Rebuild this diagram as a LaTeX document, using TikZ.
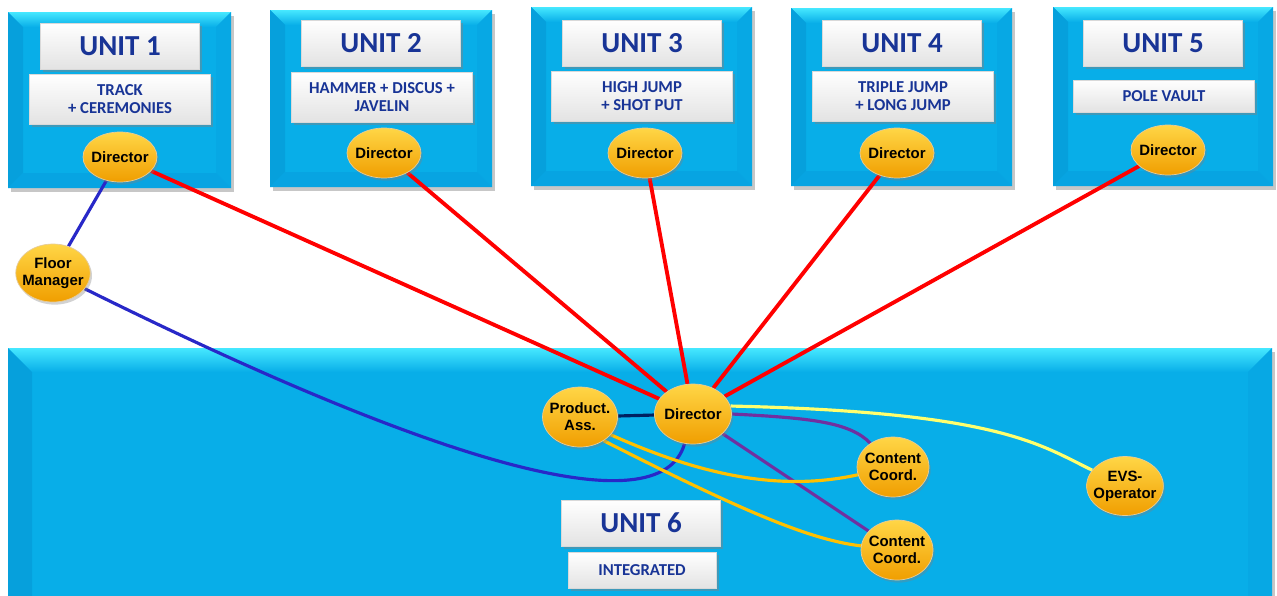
\documentclass[tikz,border=0pt]{standalone}
\usepackage{fontspec}
\newfontfamily\titlefont{Carlito}
\newfontfamily\rolefont{Liberation Sans}
\usetikzlibrary{shapes.geometric,shadows}

\definecolor{unitface}{RGB}{8,174,232}
\definecolor{unittop}{RGB}{70,232,255}
\definecolor{unitleft}{RGB}{6,160,220}
\definecolor{unitright}{RGB}{7,168,228}
\definecolor{unitbottom}{RGB}{7,164,226}
\definecolor{unitnavy}{RGB}{24,52,150}
\definecolor{linered}{RGB}{255,0,0}
\definecolor{floorblue}{RGB}{40,40,200}
\definecolor{assnavy}{RGB}{0,32,96}
\definecolor{evsyellow}{RGB}{255,255,110}
\definecolor{coordpurple}{RGB}{112,48,160}
\definecolor{assorange}{RGB}{255,192,0}
\definecolor{balltop}{RGB}{255,214,70}
\definecolor{ballbottom}{RGB}{240,158,0}

\pgfdeclarelayer{background}
\pgfdeclarelayer{lines}
\pgfsetlayers{background,lines,main}

% bevelled unit panel: x1,y1,x2,y2,bevel
\newcommand{\unitpanel}[5]{%
  \fill[black, opacity=0.22] (#1+3,#2+4) rectangle (#3+3,#4+4);
  \fill[unitface] (#1,#2) rectangle (#3,#4);
  \shade[top color=unittop, bottom color=unitface] (#1,#2) -- (#3,#2) -- (#3-#5,#2+#5) -- (#1+#5,#2+#5) -- cycle;
  \fill[unitleft] (#1,#2) -- (#1+#5,#2+#5) -- (#1+#5,#4-#5) -- (#1,#4) -- cycle;
  \fill[unitright] (#3,#2) -- (#3,#4) -- (#3-#5,#4-#5) -- (#3-#5,#2+#5) -- cycle;
  \fill[unitbottom] (#1,#4) -- (#3,#4) -- (#3-#5,#4-#5) -- (#1+#5,#4-#5) -- cycle;
}

\tikzset{
  unittitle/.style={rectangle, minimum width=3.18cm, minimum height=0.92cm,
    top color=white, bottom color=gray!22, draw=gray!30,
    drop shadow={shadow xshift=1.5pt, shadow yshift=-1.5pt, opacity=0.45},
    text=unitnavy, font=\titlefont\bfseries\fontsize{16.5}{16.5}\selectfont},
  unitsub/.style={rectangle, minimum width=3.62cm, minimum height=1cm,
    top color=white, bottom color=gray!22, draw=gray!30, align=center,
    drop shadow={shadow xshift=1.5pt, shadow yshift=-1.5pt, opacity=0.45},
    text=unitnavy, font=\titlefont\bfseries\fontsize{9.5}{10.5}\selectfont},
  role/.style={ellipse, inner xsep=-2.5pt, inner ysep=0pt, minimum width=1.48cm, minimum height=1cm,
    top color=balltop, bottom color=ballbottom, draw=ballbottom!80!black!40,
    drop shadow={shadow xshift=1pt, shadow yshift=-1.5pt, opacity=0.35},
    align=center, font=\rolefont\bfseries\fontsize{8.5}{9.6}\selectfont},
  role2/.style={role, minimum width=1.5cm, minimum height=1.2cm},
  cmd/.style={line width=2.2pt, linered},
}

\begin{document}
\begin{tikzpicture}[x=0.02cm, y=-0.02cm]
\useasboundingbox (0,0) rectangle (1277,595);

%Panels
\begin{pgfonlayer}{background}
\fill[white] (0,0) rectangle (1277,595);
\unitpanel{8}{12}{231}{188}{15}
\unitpanel{270}{10}{492}{187}{15}
\unitpanel{531}{7}{752}{186}{15}
\unitpanel{791}{8}{1012}{186}{15}
\unitpanel{1053}{7}{1273}{186}{15}
\unitpanel{8}{348}{1272}{640}{24}
\end{pgfonlayer}

%Unit 1
\node[unittitle] (title1) at (120,46) {UNIT 1};
\node[unitsub] (sub1) at (120,99) {TRACK\\+ CEREMONIES};
\node[role] (dir1) at (120,157) {Director};

%Unit 2
\node[unittitle] (title2) at (381,43) {UNIT 2};
\node[unitsub] (sub2) at (382,97) {HAMMER + DISCUS +\\JAVELIN};
\node[role] (dir2) at (384,153) {Director};

%Unit 3
\node[unittitle] (title3) at (642,43) {UNIT 3};
\node[unitsub] (sub3) at (642,96) {HIGH JUMP\\+ SHOT PUT};
\node[role] (dir3) at (645,153) {Director};

%Unit 4
\node[unittitle] (title4) at (902,43) {UNIT 4};
\node[unitsub] (sub4) at (903,96) {TRIPLE JUMP\\+ LONG JUMP};
\node[role] (dir4) at (897,153) {Director};

%Unit 5
\node[unittitle] (title5) at (1163,43) {UNIT 5};
\node[unitsub, minimum height=0.64cm] (sub5) at (1164,96) {POLE VAULT};
\node[role] (dir5) at (1168,150) {Director};

%Floor Manager
\node[role, minimum height=1.16cm] (floor) at (53,273) {Floor\\Manager};

%Unit 6
\node[unittitle] (title6) at (641,523) {UNIT 6};
\node[unitsub, minimum width=2.96cm, minimum height=0.72cm] (sub6) at (642,570) {INTEGRATED};
\node[role2, minimum width=1.54cm] (dir6) at (693,414) {Director};
\node[role2] (ass) at (580,417) {Product.\\Ass.};
\node[role2, minimum width=1.44cm] (cc1) at (893,467) {Content\\Coord.};
\node[role2, minimum width=1.44cm] (cc2) at (897,550) {Content\\Coord.};
\node[role2, minimum width=1.48cm, minimum height=1.18cm] (evs) at (1125,486) {EVS-\\Operator};

%Connections
\begin{pgfonlayer}{lines}
\draw[cmd] (dir1) -- (dir6);
\draw[cmd] (dir2) -- (dir6);
\draw[cmd] (dir3) -- (dir6);
\draw[cmd] (dir4) -- (dir6);
\draw[cmd] (dir5) -- (dir6);
\draw[line width=1.8pt, floorblue] (dir1) -- (floor);
\draw[line width=1.8pt, floorblue] (floor) .. controls (430,460) and (660,530) .. (dir6);
\draw[line width=1.8pt, assnavy] (ass) -- (dir6);
\draw[line width=1.8pt, evsyellow] (dir6.12) .. controls (1000,412) and (1040,445) .. (evs);
\draw[line width=1.8pt, coordpurple] (dir6.east) .. controls (810,418) and (850,422) .. (cc1);
\draw[line width=1.8pt, coordpurple] (dir6) -- (cc2);
\draw[line width=1.8pt, assorange] (ass.-30) .. controls (700,475) and (780,492) .. (cc1);
\draw[line width=1.8pt, assorange] (ass.-45) .. controls (740,510) and (810,540) .. (cc2);
\end{pgfonlayer}

\end{tikzpicture}
\end{document}
